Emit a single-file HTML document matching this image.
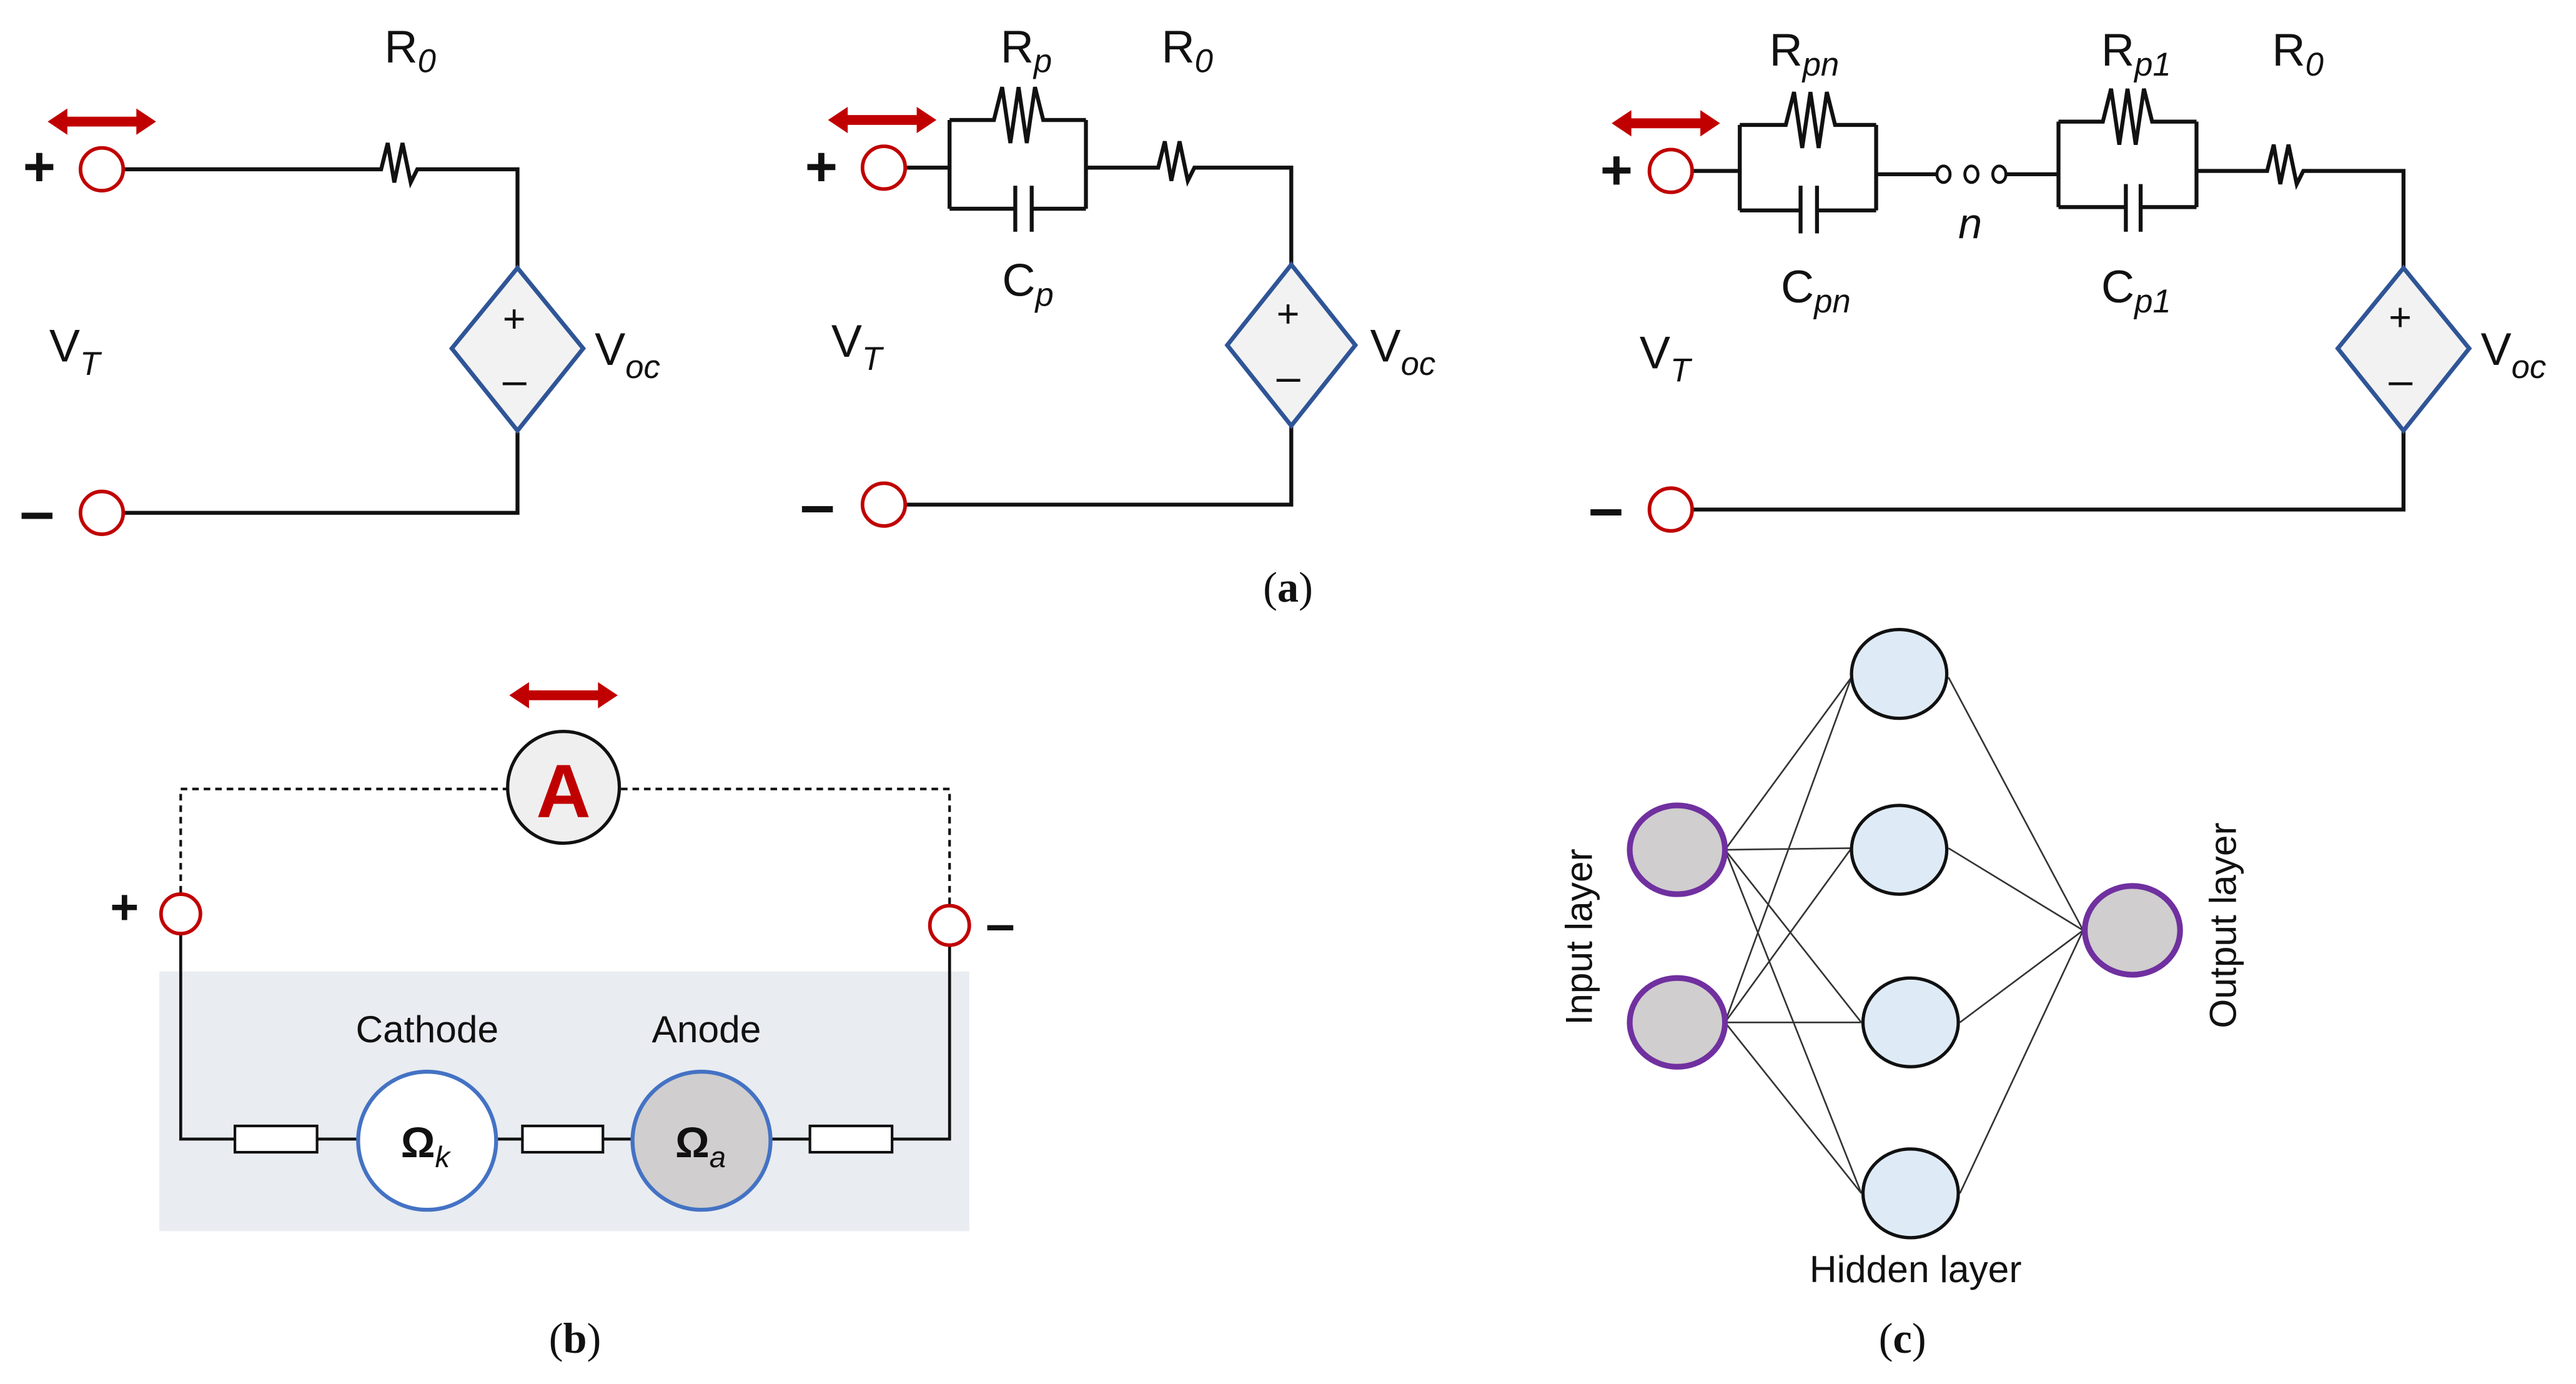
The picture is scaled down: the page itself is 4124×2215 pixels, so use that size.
<!DOCTYPE html>
<html><head><meta charset="utf-8"><style>
html,body{margin:0;padding:0;background:#fff}
svg{display:block}
text{font-family:"Liberation Sans",sans-serif;fill:#111}
.w{stroke:#111;stroke-width:2.4;fill:none}
.t{fill:#fff;stroke:#c00000;stroke-width:2.2}
.d{fill:#f2f2f2;stroke:#2f5597;stroke-width:2.6}
.ar{fill:#c00000}
</style></head><body>
<svg width="4124" height="2215" viewBox="0 0 1568 842" preserveAspectRatio="none" xmlns="http://www.w3.org/2000/svg">
<defs>
<g id="arrow"><path class="ar" d="M0,0 l12,-8 v5 h42 v-5 l12,8 l-12,8 v-5 h-42 v5 z"/></g>
</defs>

<!-- ===== Circuit 1 ===== -->
<use href="#arrow" x="29" y="74"/>
<text x="14" y="113" font-size="34" font-weight="bold">+</text>
<text x="12" y="324" font-size="38" font-weight="bold">–</text>
<path class="w" d="M75,103 H232 l4,-16 l4,24 l5,-24 l5,24 l4,-8 H315 V165 M315,263 V312 H75"/>
<ellipse class="t" cx="62" cy="103" rx="13" ry="13"/>
<ellipse class="t" cx="62" cy="312" rx="13" ry="13"/>
<path class="d" d="M315,163 L355,212 L315,262 L275,212 Z"/>
<text x="306" y="202" font-size="24">+</text>
<text x="306" y="240" font-size="26">–</text>
<text x="234" y="38" font-size="28">R<tspan font-size="20" font-style="italic" dy="6">0</tspan></text>
<text x="30" y="220" font-size="28">V<tspan font-size="20" font-style="italic" dy="8">T</tspan></text>
<text x="362" y="222" font-size="28">V<tspan font-size="20" font-style="italic" dy="8">oc</tspan></text>

<!-- ===== Circuit 2 ===== -->
<use href="#arrow" x="504" y="73"/>
<text x="490" y="113" font-size="34" font-weight="bold">+</text>
<text x="487" y="320" font-size="38" font-weight="bold">–</text>
<path class="w" d="M551,102 H578 M578,73 V127 M661,73 V127 M578,73 H605 l5,-20 l5,34 l5,-34 l5,34 l5,-34 l5,20 H661 M578,127 H618 M628,127 H661 M618,113 V141 M628,113 V141 M661,102 H705 l4,-16 l4,24 l5,-24 l5,24 l4,-8 H786 V162 M786,258 V307 H551"/>
<ellipse class="t" cx="538" cy="102" rx="13" ry="13"/>
<ellipse class="t" cx="538" cy="307" rx="13" ry="13"/>
<path class="d" d="M786,161 L825,210 L786,259 L747,210 Z"/>
<text x="777" y="199" font-size="24">+</text>
<text x="777" y="238" font-size="26">–</text>
<text x="609" y="38" font-size="28">R<tspan font-size="20" font-style="italic" dy="6">p</tspan></text>
<text x="707" y="38" font-size="28">R<tspan font-size="20" font-style="italic" dy="6">0</tspan></text>
<text x="610" y="180" font-size="28">C<tspan font-size="20" font-style="italic" dy="6">p</tspan></text>
<text x="506" y="217" font-size="28">V<tspan font-size="20" font-style="italic" dy="8">T</tspan></text>
<text x="834" y="220" font-size="28">V<tspan font-size="20" font-style="italic" dy="8">oc</tspan></text>

<!-- ===== Circuit 3 ===== -->
<use href="#arrow" x="981" y="75"/>
<text x="974" y="115" font-size="34" font-weight="bold">+</text>
<text x="967" y="322" font-size="38" font-weight="bold">–</text>
<path class="w" d="M1030,104 H1059 M1059,76 V128 M1142,76 V128 M1059,76 H1087 l5,-20 l5,34 l5,-34 l5,34 l5,-34 l5,20 H1142 M1059,128 H1096 M1106,128 H1142 M1096,113 V142 M1106,113 V142 M1142,106 H1179 M1221,106 H1253 M1253,74 V126 M1337,74 V126 M1253,74 H1280 l5,-20 l5,34 l5,-34 l5,34 l5,-34 l5,20 H1337 M1253,126 H1294 M1303,126 H1337 M1294,112 V141 M1303,112 V141 M1337,104 H1380 l4,-16 l4,24 l5,-24 l5,24 l4,-8 H1463 V163 M1463,262 V310 H1030"/>
<ellipse cx="1183" cy="106" rx="4" ry="5" fill="#fff" stroke="#111" stroke-width="1.8"/>
<ellipse cx="1200" cy="106" rx="4" ry="5" fill="#fff" stroke="#111" stroke-width="1.8"/>
<ellipse cx="1217" cy="106" rx="4" ry="5" fill="#fff" stroke="#111" stroke-width="1.8"/>
<ellipse class="t" cx="1017" cy="104" rx="13" ry="13"/>
<ellipse class="t" cx="1017" cy="310" rx="13" ry="13"/>
<path class="d" d="M1463,163 L1503,212 L1463,262 L1423,212 Z"/>
<text x="1454" y="201" font-size="24">+</text>
<text x="1454" y="240" font-size="26">–</text>
<text x="1077" y="40" font-size="28">R<tspan font-size="20" font-style="italic" dy="6">pn</tspan></text>
<text x="1279" y="40" font-size="28">R<tspan font-size="20" font-style="italic" dy="6">p1</tspan></text>
<text x="1383" y="40" font-size="28">R<tspan font-size="20" font-style="italic" dy="6">0</tspan></text>
<text x="1192" y="145" font-size="26" font-style="italic">n</text>
<text x="1084" y="184" font-size="28">C<tspan font-size="20" font-style="italic" dy="6">pn</tspan></text>
<text x="1279" y="184" font-size="28">C<tspan font-size="20" font-style="italic" dy="6">p1</tspan></text>
<text x="998" y="224" font-size="28">V<tspan font-size="20" font-style="italic" dy="8">T</tspan></text>
<text x="1510" y="222" font-size="28">V<tspan font-size="20" font-style="italic" dy="8">oc</tspan></text>

<text x="784" y="366" font-size="26" text-anchor="middle" style="font-family:'Liberation Serif',serif">(<tspan font-weight="bold">a</tspan>)</text>

<!-- ===== (b) ===== -->
<use href="#arrow" x="310" y="423"/>
<rect x="97" y="591" width="493" height="158" fill="#e9ecf1"/>
<path d="M110,543 V480 H309 M378,480 H578 V550" stroke="#111" stroke-width="1.6" fill="none" stroke-dasharray="4,3"/>
<circle cx="343" cy="479" r="34" fill="#efefef" stroke="#111" stroke-width="2"/>
<text x="343" y="497" font-size="46" font-weight="bold" text-anchor="middle" style="fill:#c00000">A</text>
<text x="67" y="562" font-size="30" font-weight="bold">+</text>
<text x="600" y="573" font-size="32" font-weight="bold">–</text>
<path class="w" style="stroke-width:1.8" d="M110,569 V693 H143 M193,693 H218 M302,693 H318 M367,693 H385 M469,693 H493 M543,693 H578 V576"/>
<rect x="143" y="685" width="50" height="16" fill="#fff" stroke="#111" stroke-width="1.6"/>
<rect x="318" y="685" width="49" height="16" fill="#fff" stroke="#111" stroke-width="1.6"/>
<rect x="493" y="685" width="50" height="16" fill="#fff" stroke="#111" stroke-width="1.6"/>
<ellipse class="t" cx="110" cy="556" rx="12" ry="12"/>
<ellipse class="t" cx="578" cy="563" rx="12" ry="12"/>
<circle cx="260" cy="694" r="42" fill="#fff" stroke="#4472c4" stroke-width="2.4"/>
<circle cx="427" cy="694" r="42" fill="#d0cece" stroke="#4472c4" stroke-width="2.4"/>
<text x="260" y="634" font-size="23" text-anchor="middle">Cathode</text>
<text x="430" y="634" font-size="23" text-anchor="middle">Anode</text>
<text x="244" y="704" font-size="26" font-weight="bold">Ω<tspan font-size="18" font-weight="normal" font-style="italic" dy="6">k</tspan></text>
<text x="411" y="704" font-size="26" font-weight="bold">Ω<tspan font-size="18" font-weight="normal" font-style="italic" dy="6">a</tspan></text>
<text x="350" y="823" font-size="26" text-anchor="middle" style="font-family:'Liberation Serif',serif">(<tspan font-weight="bold">b</tspan>)</text>

<!-- ===== (c) ===== -->
<g stroke="#333" stroke-width="1">
<path d="M1050,517 L1127,412 M1050,517 L1127,516 M1050,517 L1133,622 M1050,517 L1133,726 M1050,622 L1127,412 M1050,622 L1127,516 M1050,622 L1133,622 M1050,622 L1133,726 M1186,412 L1268,566 M1186,516 L1268,566 M1193,622 L1268,566 M1193,726 L1268,566" fill="none"/>
</g>
<ellipse cx="1021" cy="517" rx="29" ry="27" fill="#d0cece" stroke="#7030a0" stroke-width="3.5"/>
<ellipse cx="1021" cy="622" rx="29" ry="27" fill="#d0cece" stroke="#7030a0" stroke-width="3.5"/>
<ellipse cx="1298" cy="566" rx="29" ry="27" fill="#d0cece" stroke="#7030a0" stroke-width="3.5"/>
<ellipse cx="1156" cy="410" rx="29" ry="27" fill="#deebf7" stroke="#111" stroke-width="2"/>
<ellipse cx="1156" cy="517" rx="29" ry="27" fill="#deebf7" stroke="#111" stroke-width="2"/>
<ellipse cx="1163" cy="622" rx="29" ry="27" fill="#deebf7" stroke="#111" stroke-width="2"/>
<ellipse cx="1163" cy="726" rx="29" ry="27" fill="#deebf7" stroke="#111" stroke-width="2"/>
<text transform="translate(969,570) rotate(-90)" font-size="23" text-anchor="middle">Input layer</text>
<text transform="translate(1361,563) rotate(-90)" font-size="23" text-anchor="middle">Output layer</text>
<text x="1166" y="780" font-size="23" text-anchor="middle">Hidden layer</text>
<text x="1158" y="823" font-size="26" text-anchor="middle" style="font-family:'Liberation Serif',serif">(<tspan font-weight="bold">c</tspan>)</text>
</svg>
</body></html>
